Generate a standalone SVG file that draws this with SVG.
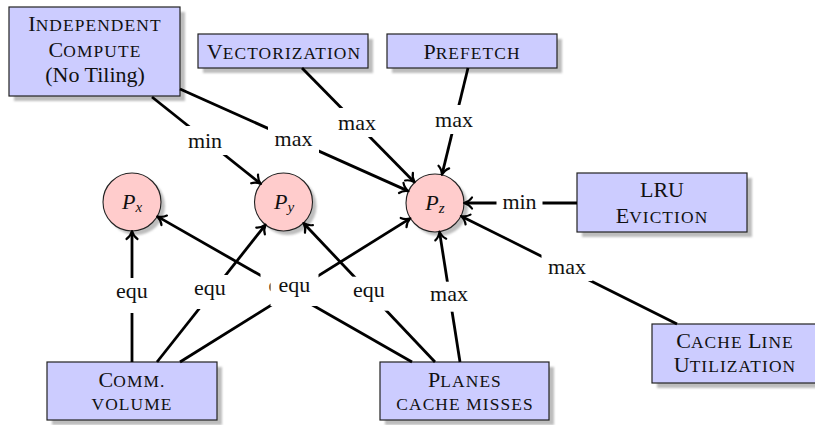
<svg xmlns="http://www.w3.org/2000/svg" width="815" height="425" viewBox="0 0 815 425">
<defs>
<style>
.box{fill:#ccccff;stroke:#222;stroke-width:1.2}
.sh{fill:#bdbdbd}
.circ{fill:#ffcccc;stroke:#222;stroke-width:1.1}
.t{font-family:"Liberation Serif","Times New Roman",serif;font-size:22px;fill:#111;text-anchor:middle}
.sc{font-size:17.4px;letter-spacing:1.1px}
.lbl{font-family:"Liberation Serif","Times New Roman",serif;font-size:22px;fill:#111;text-anchor:middle}
.bg{fill:#fff}
.e{stroke:#000;stroke-width:2.8;fill:none;marker-end:url(#arr)}
.m{font-family:"Liberation Serif","Times New Roman",serif;font-style:italic;font-size:22px;fill:#111;text-anchor:middle}
</style>
<filter id="blur" x="-20%" y="-20%" width="140%" height="140%"><feGaussianBlur stdDeviation="1"/></filter>
<marker id="arr" markerUnits="userSpaceOnUse" markerWidth="20" markerHeight="20" refX="0" refY="0" orient="auto" overflow="visible">
<path d="M-6,-5.5 C-4,-2.5 -1,-0.8 2,0 C-1,0.8 -4,2.5 -6,5.5" fill="none" stroke="#000" stroke-width="2.2" stroke-linecap="round" stroke-linejoin="round"/>
</marker>
</defs>
<rect width="815" height="425" fill="#fff"/>

<g id="node-indep">
<rect class="sh" x="14" y="12" width="171" height="89" filter="url(#blur)"/>
<rect class="box" x="9" y="7" width="171" height="89"/>
<text class="t" x="95" y="31">I<tspan class="sc">NDEPENDENT</tspan></text>
<text class="t" x="95" y="57">C<tspan class="sc">OMPUTE</tspan></text>
<text class="t" x="95" y="82">(No Tiling)</text>
</g>
<g id="node-vect">
<rect class="sh" x="203" y="39" width="170" height="34" filter="url(#blur)"/>
<rect class="box" x="198" y="34" width="170" height="34"/>
<text class="t" x="284" y="58.5">V<tspan class="sc">ECTORIZATION</tspan></text>
</g>
<g id="node-prefetch">
<rect class="sh" x="392" y="39" width="170" height="34" filter="url(#blur)"/>
<rect class="box" x="387" y="34" width="170" height="34"/>
<text class="t" x="472" y="58.5">P<tspan class="sc">REFETCH</tspan></text>
</g>
<g id="node-lru">
<rect class="sh" x="582" y="178" width="170" height="59" filter="url(#blur)"/>
<rect class="box" x="577" y="173" width="170" height="59"/>
<text class="t" x="662" y="197">LRU</text>
<text class="t" x="662" y="223">E<tspan class="sc">VICTION</tspan></text>
</g>
<g id="node-cacheline">
<rect class="sh" x="657" y="329" width="164" height="59" filter="url(#blur)"/>
<rect class="box" x="652" y="324" width="164" height="59"/>
<text class="t" x="735" y="348">C<tspan class="sc">ACHE </tspan>L<tspan class="sc">INE</tspan></text>
<text class="t" x="735" y="372">U<tspan class="sc">TILIZATION</tspan></text>
</g>
<g id="node-comm">
<rect class="sh" x="52" y="367" width="170" height="58" filter="url(#blur)"/>
<rect class="box" x="47" y="362" width="170" height="58"/>
<text class="t" x="132" y="387">C<tspan class="sc">OMM.</tspan></text>
<text class="t" x="132" y="410"><tspan class="sc">VOLUME</tspan></text>
</g>
<g id="node-planes">
<rect class="sh" x="385" y="367" width="169" height="58" filter="url(#blur)"/>
<rect class="box" x="380" y="362" width="169" height="58"/>
<text class="t" x="465" y="387">P<tspan class="sc">LANES</tspan></text>
<text class="t" x="465" y="410"><tspan class="sc">CACHE MISSES</tspan></text>
</g>

<g id="node-px">
<circle cx="136" cy="206" r="29" fill="#bdbdbd" filter="url(#blur)"/>
<circle class="circ" cx="132" cy="202" r="29"/>
<text class="m" x="132" y="208.5">P<tspan font-size="15" dy="3">x</tspan></text>
</g>
<g id="node-py">
<circle cx="287.5" cy="206" r="29" fill="#bdbdbd" filter="url(#blur)"/>
<circle class="circ" cx="283.5" cy="202" r="29"/>
<text class="m" x="284" y="208.5">P<tspan font-size="15" dy="3">y</tspan></text>
</g>
<g id="node-pz">
<circle cx="439" cy="207" r="29" fill="#bdbdbd" filter="url(#blur)"/>
<circle class="circ" cx="435" cy="203" r="29"/>
<text class="m" x="435" y="209.5">P<tspan font-size="15" dy="3">z</tspan></text>
</g>

<g id="connectors">
<line class="e" x1="152" y1="97" x2="259.3" y2="182.7"/>
<rect class="bg" x="182" y="126" width="46" height="29"/>
<text class="lbl" x="205" y="148">min</text>

<line class="e" x1="180" y1="89" x2="406.7" y2="190.4"/>
<rect class="bg" x="268" y="124" width="51" height="29"/>
<text class="lbl" x="293.5" y="146">max</text>

<line class="e" x1="302" y1="68" x2="413.2" y2="180.9"/>
<rect class="bg" x="331.5" y="108" width="51" height="29"/>
<text class="lbl" x="357" y="130">max</text>

<line class="e" x1="468" y1="68" x2="442.4" y2="172.9"/>
<rect class="bg" x="428.5" y="105" width="51" height="29"/>
<text class="lbl" x="454" y="127">max</text>

<line class="e" x1="577" y1="203" x2="466" y2="203"/>
<rect class="bg" x="496.5" y="187" width="46" height="29"/>
<text class="lbl" x="519.5" y="209">min</text>

<line class="e" x1="677" y1="324" x2="462.7" y2="216.9"/>
<rect class="bg" x="541.5" y="252" width="51" height="29"/>
<text class="lbl" x="567" y="274">max</text>

<line class="e" x1="460" y1="362" x2="439.8" y2="233.6"/>
<rect class="bg" x="423.5" y="281.7" width="51" height="30"/>
<text class="lbl" x="449" y="300.7">max</text>

<line class="e" x1="435" y1="362" x2="304.8" y2="224.5"/>
<rect class="bg" x="345" y="276.7" width="48" height="34"/>
<text class="lbl" x="369" y="296.7">equ</text>

<line class="e" x1="412" y1="362" x2="159" y2="217.4"/>
<rect class="bg" x="260.5" y="272" width="48" height="34"/>
<text class="lbl" x="284.5" y="292">equ</text>

<line class="e" x1="132" y1="362" x2="132" y2="233"/>
<rect class="bg" x="108" y="278" width="48" height="35"/>
<text class="lbl" x="132" y="298">equ</text>

<line class="e" x1="157" y1="362" x2="264.3" y2="226.3"/>
<rect class="bg" x="186" y="275" width="48" height="34"/>
<text class="lbl" x="210" y="295">equ</text>

<line class="e" x1="180" y1="362" x2="408.7" y2="219.4"/>
<rect class="bg" x="270.5" y="272" width="48" height="34"/>
<text class="lbl" x="294.5" y="292">equ</text>
</g>
</svg>
